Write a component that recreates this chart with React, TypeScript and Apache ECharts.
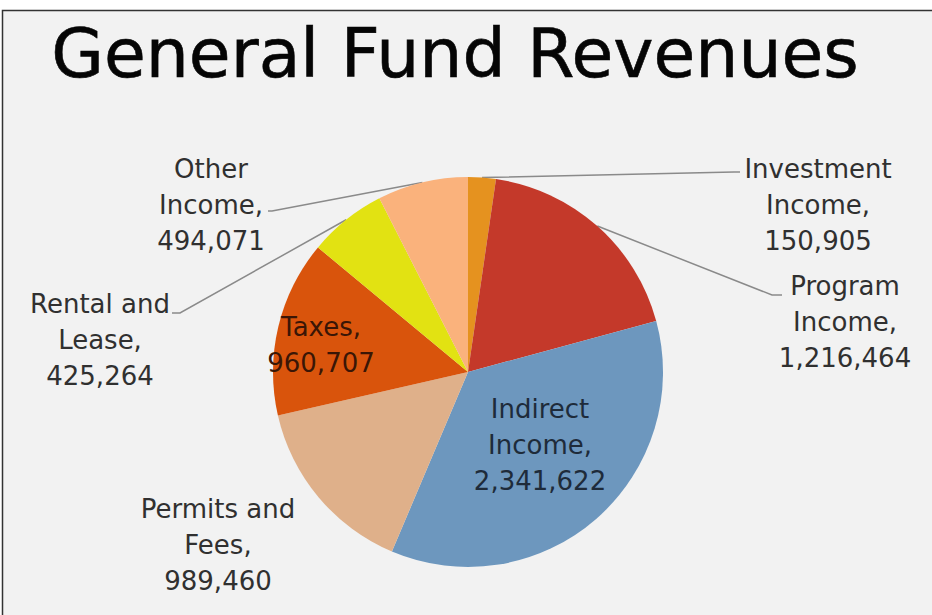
import React, { useEffect, useRef } from "react";
import * as echarts from "echarts";

const titleText = "General Fund Revenues";
const categories = [
  "Investment Income",
  "Program Income",
  "Indirect Income",
  "Permits and Fees",
  "Taxes",
  "Rental and Lease",
  "Other Income",
];
const values = [150905, 1216464, 2341622, 989460, 960707, 425264, 494071];
const colors = ["#E5921F", "#C4392A", "#6D97BE", "#DFB08A", "#D9540C", "#E2E212", "#FAB27C"];
const insideLabel = [false, false, true, false, true, false, false];
const showLine = [true, true, false, false, false, true, true];
// label block centres (layout, not data)
const labelPos: [number, number][] = [
  [818, 205],
  [845, 322],
  [540, 445],
  [218, 545],
  [321, 345],
  [100, 340],
  [211, 205],
];
// where each guide line meets its label, relative to the label centre, and the short end stub
const lineAnchor: ([number, number, number] | null)[] = [
  [-78, -33, -6],
  [-63, -27, -10],
  null,
  null,
  null,
  [72, -27, 8],
  [57, 6, 4],
];
const insideTextColor = ["", "", "#1E2B3A", "", "#3A1606", "", ""];

function wrapName(n: string): string {
  if (n.includes(" and ")) return n.replace(" and ", " and\n");
  const i = n.indexOf(" ");
  return i < 0 ? n : n.slice(0, i) + "\n" + n.slice(i + 1);
}

export default function App() {
  const ref = useRef<HTMLDivElement>(null);
  useEffect(() => {
    document.body.style.margin = "0";
    const chart = echarts.init(ref.current!, null, { renderer: "svg" });
    const data = categories.map((c, i) => ({
      name: c,
      value: values[i],
      itemStyle: { color: colors[i] },
      label: {
        position: insideLabel[i] ? "inside" : "outside",
        color: insideLabel[i] ? insideTextColor[i] : "#303030",
      },
      labelLine: { show: showLine[i] },
    }));
    chart.setOption({
      animation: false,
      backgroundColor: "#ffffff",
      title: {
        text: titleText,
        left: 450,
        top: 9,
        textAlign: "center",
        textStyle: {
          fontFamily: "DejaVu Sans",
          fontSize: 68,
          fontWeight: "normal",
          color: "#050505",
          lineHeight: 78,
          textBorderColor: "#050505",
          textBorderWidth: 0.6,
        },
      },
      graphic: [
        {
          type: "rect",
          z: -10,
          shape: { x: 2.5, y: 10.5, width: 1000, height: 700 },
          style: { fill: "#F2F2F2", stroke: "#333333", lineWidth: 1.5 },
        },
      ],
      series: [
        {
          type: "pie",
          center: [468, 372],
          radius: 195,
          startAngle: 90,
          clockwise: true,
          data,
          label: {
            show: true,
            fontFamily: "DejaVu Sans",
            fontSize: 26,
            lineHeight: 36,
            align: "center",
            formatter: (p: any) =>
              wrapName(p.name) + ",\n" + Number(p.value).toLocaleString("en-US"),
          },
          labelLine: {
            show: true,
            length: 10,
            length2: 6,
            lineStyle: { color: "#8A8A8A", width: 1.5 },
          },
          labelLayout: (params: any) => {
            const i = params.dataIndex;
            const p = labelPos[i];
            const out: any = { x: p[0], y: p[1], align: "center", verticalAlign: "middle" };
            const a = lineAnchor[i];
            if (a && params.labelLinePoints && params.labelLinePoints[0]) {
              const start = params.labelLinePoints[0];
              const end = [p[0] + a[0], p[1] + a[1]];
              const mid = [end[0] + a[2], end[1]];
              out.labelLinePoints = [start, mid, end];
            }
            return out;
          },
          emphasis: { disabled: true },
        },
      ],
    });
    return () => chart.dispose();
  }, []);
  return (
    <div
      ref={ref}
      style={{ position: "absolute", left: 0, top: 0, width: 932, height: 615 }}
    />
  );
}
